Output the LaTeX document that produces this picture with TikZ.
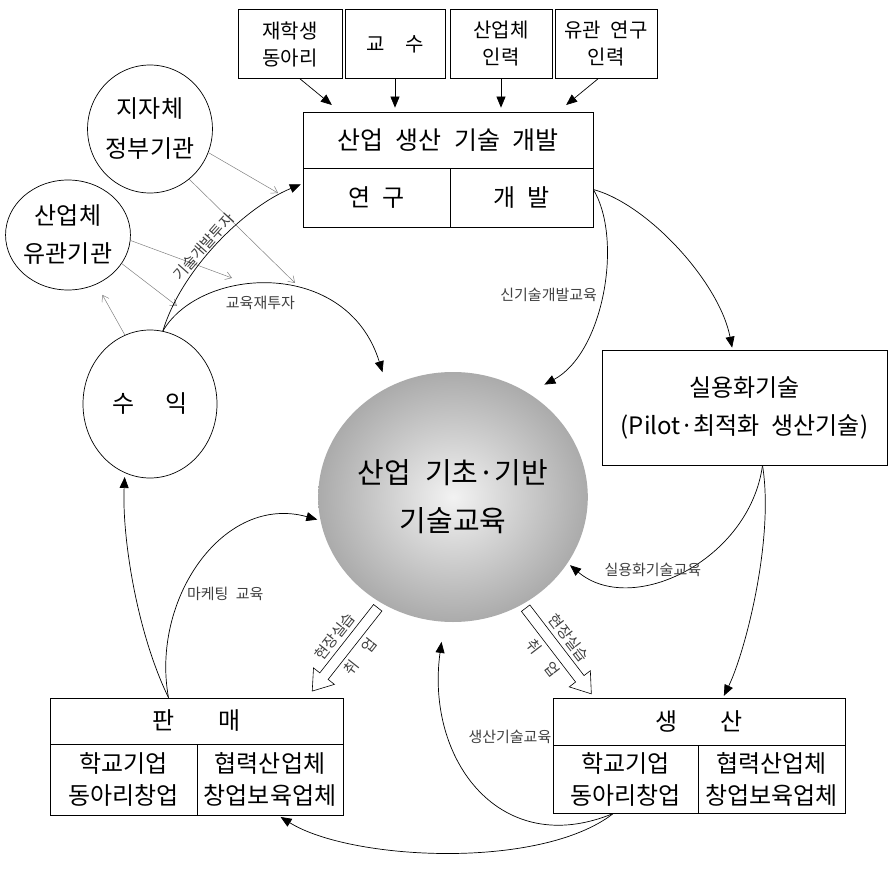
\documentclass[tikz,border=0pt]{standalone}
\usepackage{fontspec}
\setmainfont[WordSpace=2.2]{Noto Sans CJK KR}
\usetikzlibrary{shapes.geometric,shapes.arrows,arrows.meta}

\begin{document}
\begin{tikzpicture}[x=1pt,y=-1pt,line width=0.7pt,>={Triangle[length=11pt,width=9pt]}]
  \tikzstyle{box}=[draw,rectangle,align=center,inner sep=0pt]
  \tikzstyle{topbox}=[box,minimum height=69pt,font=\fontsize{20}{27}\selectfont]
  \tikzstyle{cell}=[box,font=\fontsize{24}{32}\selectfont]
  \tikzstyle{org}=[draw,ellipse,align=center,inner sep=0pt,font=\fontsize{24}{40}\selectfont]
  \tikzstyle{fund}=[gray,line width=0.5pt,-{Straight Barb[length=6pt,width=8pt]}]
  \tikzstyle{lbl}=[font=\fontsize{15}{17}\selectfont,text=black!75,inner sep=1pt]
  \tikzstyle{hollow}=[draw,fill=white,single arrow,single arrow head extend=8pt,single arrow tip angle=70,text height=10pt,text depth=0pt,inner sep=0pt,sloped,allow upside down,line width=0.6pt]

  \useasboundingbox (0,0) rectangle (889,869);

  \foreach \name/\x/\w/\txt in {B-1/290/104/{재학생\\동아리}, B-2/395/100/{교\hspace{1em}수}, B-3/501/102/{산업체\\인력}, B-4/606/102/{유관 연구\\인력}}
    \node[topbox,minimum width=\w pt] (\name) at (\x,44) {\txt};

  \node[box,minimum width=290pt,minimum height=56pt,font=\fontsize{25}{27}\selectfont] (T) at (448,140) {산업 생산 기술 개발};
  \node[cell,minimum width=147pt,minimum height=59pt] (Y) at (376.5,197.5) {연 구};
  \node[cell,minimum width=143pt,minimum height=59pt] (K) at (521.5,197.5) {개 발};

  \node[org,minimum width=110pt,minimum height=128pt] (G) at (150,129) {지자체\\정부기관};
  \node[org,minimum width=114pt,minimum height=110pt,font=\fontsize{24}{38}\selectfont] (I) at (68,235) {산업체\\유관기관};
  \node[org,minimum width=134pt,minimum height=148pt] (R) at (150,404) {수\hspace{1.3em}익};

  \node[ellipse,minimum width=234pt,minimum height=250pt,inner sep=0pt,shading=radial,inner color=gray!10,outer color=gray!66,align=center,font=\fontsize{29}{48}\selectfont] (S) at (453,497) {산업 기초·기반\\기술교육};

  \node[box,minimum width=285pt,minimum height=115pt,font=\fontsize{24}{38}\selectfont] (P) at (744.5,407.5) {실용화기술\\(Pilot·최적화 생산기술)};

  \node[cell,minimum width=293pt,minimum height=46pt] (H) at (196.5,721) {판\hspace{1.8em}매};
  \node[cell,minimum width=147pt,minimum height=71pt] (H-1) at (123.5,779.5) {학교기업\\동아리창업};
  \node[cell,minimum width=146pt,minimum height=71pt] (H-2) at (270,779.5) {협력산업체\\창업보육업체};

  \node[cell,minimum width=292pt,minimum height=47pt] (M) at (699,721.5) {생\hspace{1.8em}산};
  \node[cell,minimum width=145pt,minimum height=68pt] (M-1) at (625.5,779) {학교기업\\동아리창업};
  \node[cell,minimum width=147pt,minimum height=68pt] (M-2) at (771.5,779) {협력산업체\\창업보육업체};

  \draw[->,shorten >=1pt] ([xshift=10pt]B-1.south) -- ([xshift=30pt,yshift=6pt]T.north west);
  \foreach \b in {2,3}
    { \draw[->,shorten >=4pt] (B-\b.south) -- (B-\b.south |- T.north); }
  \draw[->,shorten >=1pt] ([xshift=-8pt]B-4.south) -- ([xshift=-28pt,yshift=6pt]T.north east);

  \coordinate (g-1) at (278,193);
  \coordinate (g-2) at (295,283);
  \coordinate (i-1) at (232,278);
  \coordinate (i-2) at (177,306);
  \draw[fund] (G.-22) -- (g-1);
  \draw[fund] (G.-52) -- (g-2);
  \draw[fund] (I.-5) -- (i-1);
  \draw[fund] (I.-28) -- (i-2);
  \draw[fund,shorten >=12pt] (R.110) -- (I.-60);

  \draw[->,shorten >=2pt] (R.80) .. controls +(18,-60) and +(-60,25) .. ([yshift=14pt]Y.west)
    node[lbl,pos=.45,sloped,above=0pt] {기술개발투자};
  \draw[->,shorten >=16pt] (R.80) .. controls +(38,-65) and +(-40,-130) .. (S.121)
    node[lbl,pos=.45,below=10pt] {교육재투자};

  \draw[->,shorten >=2pt] ([yshift=8pt]K.east) .. controls +(55,15) and +(-13,-67) .. ([xshift=-12pt]P.north);
  \draw[->,shorten >=18pt] ([yshift=8pt]K.east) .. controls +(30,50) and +(75,-40) .. (S.54)
    node[lbl,pos=.5,left=2pt] {신기술개발교육};

  \draw[->,shorten >=2pt] ([xshift=18pt]P.south) .. controls +(12,74) and +(22,-45) .. ([xshift=24pt]M.north);
  \draw[->,shorten >=3pt] ([xshift=18pt]P.south) .. controls +(-13,95) and +(64,54) .. (S.-30)
    node[lbl,pos=.63,above=3pt] {실용화기술교육};

  \draw[->,shorten >=20pt] ([xshift=-12pt]M-1.south) .. controls +(-113,47) and +(-19,138) .. (S.-94);
  \node[lbl,anchor=east] (l-1) at ([yshift=-15pt]M.west) {생산기술교육};
  \draw[->,shorten >=3pt] ([xshift=-12pt]M-1.south) .. controls +(-73,57) and +(72,45) .. ([xshift=8pt]H-2.south);

  \draw[->,shorten >=4pt] ([xshift=-28pt]H.north) .. controls +(-33,-68) and +(-3,60) .. (R.-110);
  \draw[->,shorten >=3pt] ([xshift=-28pt]H.north) .. controls +(-18,-98) and +(-97,-27) .. (S.190)
    node[lbl,pos=.5,xshift=24pt,yshift=-32pt] {마케팅 교육};

  \path (S.-124) -- ([xshift=-30pt,yshift=8pt]H.north east)
    node[hollow,midway,minimum height=106pt] (A-1) {}
    node[lbl,midway,sloped,above=8pt] {현장실습}
    node[lbl,midway,sloped,below=8pt] {취\hspace{1em}업};
  \path (S.-57) -- ([xshift=37pt,yshift=6pt]M.north west)
    node[hollow,midway,minimum height=108pt] (A-2) {}
    node[lbl,midway,sloped,above=8pt] {현장실습}
    node[lbl,midway,sloped,below=8pt] {취\hspace{1em}업};
\end{tikzpicture}
\end{document}
